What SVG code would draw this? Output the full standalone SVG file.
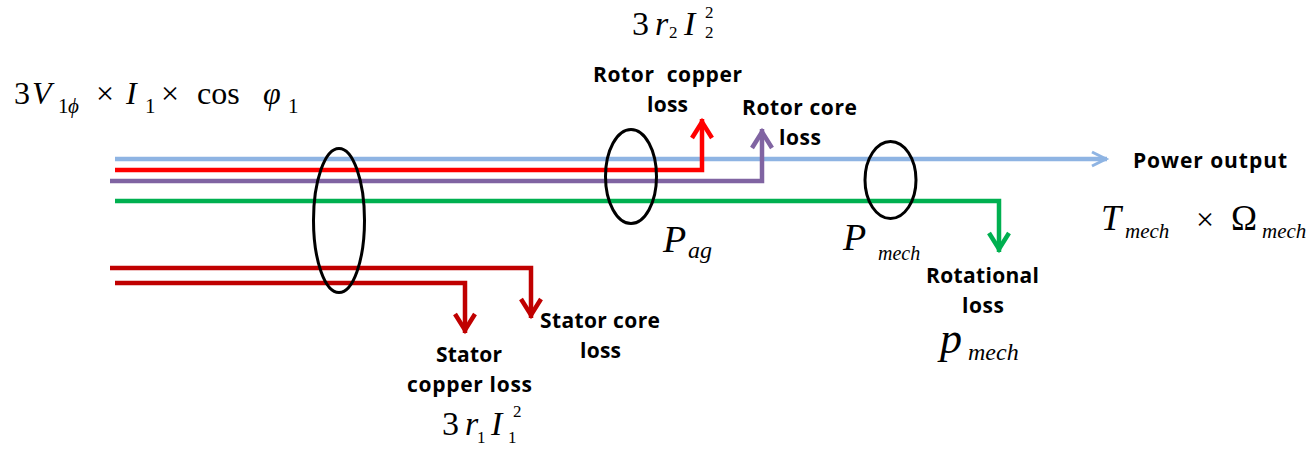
<svg xmlns="http://www.w3.org/2000/svg" width="1311" height="450" viewBox="0 0 1311 450">
<style>
.lbl{font-family:"Open Sans","Liberation Sans",sans-serif;font-weight:700;font-size:21px;fill:#000;white-space:pre}
.m{font-family:"Liberation Serif","Times New Roman",serif;fill:#000}
.i{font-style:italic}
.w{fill:none;stroke-width:4.5;stroke-linejoin:miter}
.ring{fill:none;stroke:#000;stroke-width:3}
</style>
<defs>
<marker id="aBlue" markerUnits="userSpaceOnUse" orient="auto" markerWidth="40" markerHeight="40" refX="0" refY="0" viewBox="-20 -20 40 40" overflow="visible"><path d="M-15,-7 L-1,0 L-15,7" fill="none" stroke="#8EB4E3" stroke-width="3"/></marker>
<marker id="aRed" markerUnits="userSpaceOnUse" orient="auto" markerWidth="40" markerHeight="40" refX="0" refY="0" viewBox="-20 -20 40 40" overflow="visible"><path d="M-19,-10 L-3,0 L-19,10" fill="none" stroke="#FF0000" stroke-width="4.5"/></marker>
<marker id="aPurple" markerUnits="userSpaceOnUse" orient="auto" markerWidth="40" markerHeight="40" refX="0" refY="0" viewBox="-20 -20 40 40" overflow="visible"><path d="M-19,-10 L-3,0 L-19,10" fill="none" stroke="#8064A2" stroke-width="4.5"/></marker>
<marker id="aGreen" markerUnits="userSpaceOnUse" orient="auto" markerWidth="40" markerHeight="40" refX="0" refY="0" viewBox="-20 -20 40 40" overflow="visible"><path d="M-19,-10 L-3,0 L-19,10" fill="none" stroke="#00B050" stroke-width="4.5"/></marker>
<marker id="aDark" markerUnits="userSpaceOnUse" orient="auto" markerWidth="40" markerHeight="40" refX="0" refY="0" viewBox="-20 -20 40 40" overflow="visible"><path d="M-19,-10 L-3,0 L-19,10" fill="none" stroke="#C00000" stroke-width="4.5"/></marker>
</defs>
<rect width="1311" height="450" fill="#fff"/>

<g id="connectors">
<path class="w" stroke="#8EB4E3" d="M115,159 H1107" marker-end="url(#aBlue)"/>
<path class="w" stroke="#FF0000" d="M115,170 H702 V119" marker-end="url(#aRed)"/>
<path class="w" stroke="#8064A2" d="M110,181 H762 V129" marker-end="url(#aPurple)"/>
<path class="w" stroke="#00B050" d="M115,201 H999 V252" marker-end="url(#aGreen)"/>
<path class="w" stroke="#C00000" d="M110,268 H531 V318" marker-end="url(#aDark)"/>
<path class="w" stroke="#C00000" d="M115,283 H465 V333" marker-end="url(#aDark)"/>
</g>

<g id="ring-stator"><ellipse class="ring" cx="339" cy="220.5" rx="25.5" ry="72"/></g>
<g id="ring-airgap"><ellipse class="ring" cx="631" cy="176.5" rx="25.5" ry="47"/></g>
<g id="ring-mech"><ellipse class="ring" cx="890.5" cy="180" rx="25.5" ry="38.5"/></g>

<g id="input-power" class="m">
<text x="14" y="104" font-size="32">3</text>
<text x="32" y="104" font-size="32" class="i">V</text>
<text x="58" y="113" font-size="21">1</text>
<text x="68" y="113" font-size="21" class="i">ϕ</text>
<text x="96" y="104" font-size="32">×</text>
<text x="126" y="104" font-size="32" class="i">I</text>
<text x="145" y="113" font-size="21">1</text>
<text x="161" y="104" font-size="32">×</text>
<text x="197" y="104" font-size="32">cos</text>
<text x="263" y="104" font-size="32" class="i">φ</text>
<text x="288" y="113" font-size="21">1</text>
</g>

<g id="rotor-copper-loss">
<g class="m">
<text x="632" y="35" font-size="34">3</text>
<text x="655" y="35" font-size="34" class="i">r</text>
<text x="669" y="38" font-size="17">2</text>
<text x="684" y="35" font-size="34" class="i">I</text>
<text x="705" y="38" font-size="17">2</text>
<text x="705" y="18" font-size="17">2</text>
</g>
<text class="lbl" x="593" y="82" textLength="149">Rotor  copper</text>
<text class="lbl" x="647" y="112" textLength="41">loss</text>
</g>

<g id="rotor-core-loss">
<text class="lbl" x="742" y="115" textLength="115">Rotor core</text>
<text class="lbl" x="779" y="145" textLength="42">loss</text>
</g>

<g id="power-output">
<text class="lbl" x="1133" y="168" textLength="154">Power output</text>
<g class="m">
<text x="1101" y="230" font-size="36" class="i">T</text>
<text x="1125" y="238" font-size="21" class="i">mech</text>
<text x="1196" y="230" font-size="32">×</text>
<text x="1231" y="230" font-size="35">Ω</text>
<text x="1262" y="238" font-size="21" class="i">mech</text>
</g>
</g>

<g id="p-ag" class="m">
<text x="663" y="252" font-size="38" class="i">P</text>
<text x="688" y="258" font-size="24" class="i">ag</text>
</g>

<g id="p-mech" class="m">
<text x="843" y="250" font-size="38" class="i">P</text>
<text x="878" y="260" font-size="20" class="i">mech</text>
</g>

<g id="rotational-loss">
<text class="lbl" x="926" y="283" textLength="113">Rotational</text>
<text class="lbl" x="962" y="313" textLength="42">loss</text>
<g class="m">
<text x="940" y="353" font-size="44" class="i">p</text>
<text x="968" y="360" font-size="24" class="i">mech</text>
</g>
</g>

<g id="stator-core-loss">
<text class="lbl" x="540" y="328" textLength="120">Stator core</text>
<text class="lbl" x="580" y="358" textLength="41">loss</text>
</g>

<g id="stator-copper-loss">
<text class="lbl" x="436" y="362" textLength="66">Stator</text>
<text class="lbl" x="407" y="392" textLength="125">copper loss</text>
<g class="m">
<text x="442" y="435" font-size="34">3</text>
<text x="465" y="435" font-size="34" class="i">r</text>
<text x="477" y="443" font-size="17">1</text>
<text x="491" y="435" font-size="34" class="i">I</text>
<text x="508" y="443" font-size="17">1</text>
<text x="513" y="417" font-size="17">2</text>
</g>
</g>
</svg>
